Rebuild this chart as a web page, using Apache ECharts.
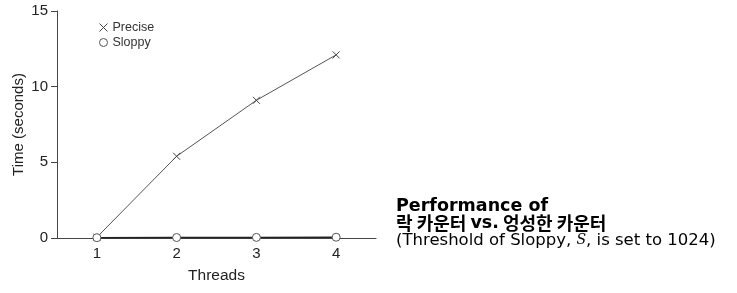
<!DOCTYPE html>
<html><head><meta charset="utf-8">
<script src="https://cdn.jsdelivr.net/npm/echarts@6/dist/echarts.min.js"></script>
<style>html,body{margin:0;padding:0;background:#fff}#c{width:737px;height:293px}</style>
</head><body><div id="c"></div>
<script>
const threads = [1, 2, 3, 4];
const precise = [0.05, 5.4, 9.1, 12.1];
const sloppy = [0.02, 0.03, 0.04, 0.05];
const yTicks = [0, 5, 10, 15];
const xTicks = [1, 2, 3, 4];

const chart = echarts.init(document.getElementById('c'));
const crossPath = 'path://M0,0L10,10M10,0L0,10';
const axisColor = '#444';
const font = 'Liberation Sans, Arial, sans-serif';
const tf = 'DejaVu Sans, Noto Sans CJK KR';
chart.setOption({
  animation: false,
  grid: { left: 57, right: 361, top: 11, bottom: 55 },
  xAxis: {
    type: 'value', min: 0.5, max: 4.5, interval: 0.5,
    name: 'Threads', nameLocation: 'middle', nameGap: 30,
    nameTextStyle: { fontFamily: font, fontSize: 15.5, color: '#222' },
    axisLine: { lineStyle: { color: axisColor, width: 1 } },
    axisTick: { show: true, customValues: xTicks, length: 3, inside: false, lineStyle: { color: axisColor } },
    axisLabel: { customValues: xTicks, fontFamily: font, fontSize: 15, color: '#222', margin: 8,
      formatter: v => (xTicks.indexOf(v) >= 0 ? String(v) : '') },
    splitLine: { show: false }
  },
  yAxis: {
    type: 'value', min: 0, max: 15, interval: 5,
    name: 'Time (seconds)', nameLocation: 'middle', nameGap: 31,
    nameTextStyle: { fontFamily: font, fontSize: 15, color: '#222' },
    axisLine: { show: true, lineStyle: { color: axisColor, width: 1 } },
    axisTick: { show: true, length: 6, lineStyle: { color: axisColor } },
    axisLabel: { fontFamily: font, fontSize: 15, color: '#222', margin: 9 },
    splitLine: { show: false }
  },
  legend: {
    orient: 'vertical', left: 97, top: 21, padding: 0, itemGap: 2, itemWidth: 8, itemHeight: 8,
    textStyle: { fontFamily: font, fontSize: 12.5, color: '#333', padding: [0, 0, 0, 0] },
    data: [
      { name: 'Precise', icon: crossPath, itemStyle: { color: 'none', borderColor: '#444', borderWidth: 1 } },
      { name: 'Sloppy', icon: 'circle', itemStyle: { color: '#fff', borderColor: '#555', borderWidth: 1 } }
    ]
  },
  title: {
    left: 396, top: 198, padding: 0,
    text: '{b|Performance of}\n{k|락 카운터 }{b|vs.}{k| 엉성한 카운터}\n{n|(Threshold of Sloppy, }{i|S}{n|, is set to 1024)}',
    textStyle: {
      fontWeight: 'normal',
      rich: {
        b: { fontFamily: tf, fontWeight: 'bold', fontSize: 17.5, color: '#000', lineHeight: 17 },
        k: { fontFamily: 'Noto Sans CJK KR', fontWeight: 'bold', fontSize: 18, color: '#000', lineHeight: 17 },
        n: { fontFamily: tf, fontWeight: 'normal', fontSize: 16.5, color: '#000', lineHeight: 17 },
        i: { fontFamily: 'DejaVu Serif', fontStyle: 'italic', fontWeight: 'normal', fontSize: 14, color: '#000', lineHeight: 17 }
      }
    }
  },
  series: [
    {
      name: 'Precise', type: 'line',
      data: threads.map((t, i) => [t, precise[i]]),
      symbol: crossPath, symbolSize: 7,
      lineStyle: { color: '#555', width: 1 },
      itemStyle: { color: 'none', borderColor: '#444', borderWidth: 1 },
      z: 3
    },
    {
      name: 'Sloppy', type: 'line',
      data: threads.map((t, i) => [t, sloppy[i]]),
      symbol: 'circle', symbolSize: 8,
      lineStyle: { color: '#222', width: 1.5 },
      itemStyle: { color: '#fff', borderColor: '#555', borderWidth: 1 },
      z: 4
    }
  ]
});
</script></body></html>
